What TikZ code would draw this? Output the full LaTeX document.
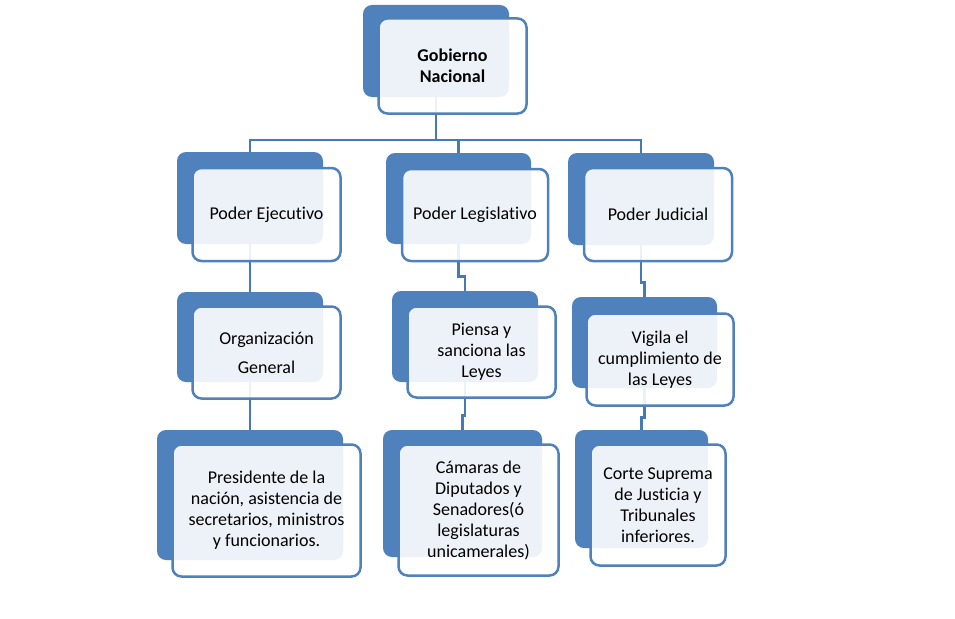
\documentclass[tikz,border=0pt]{standalone}
\usepackage{fontspec}
\setmainfont[Ligatures=NoCommon]{Carlito}
\usepackage{tikz}
\usetikzlibrary{positioning,calc}
\definecolor{office}{HTML}{4F81BD}
\definecolor{linkblue}{HTML}{4679B8}
\tikzset{
  back/.style={fill=office, rounded corners=9pt, inner sep=0pt},
  front/.style={draw=office, line width=2.5pt, fill=white, fill opacity=0.9, text opacity=1,
    rounded corners=9pt, inner sep=0pt, align=center, font=\fontsize{18}{21}\selectfont},
  link/.style={draw=linkblue, line width=2.9pt},
}

\begin{document}
\begin{tikzpicture}[x=1pt, y=-1pt]
        \fill[white] (0,0) rectangle (955,618);
        \useasboundingbox (0,0) rectangle (955,618);
        % back plates
        \node[back, minimum width=146pt, minimum height=92pt] (gobB) at (436,51) {};
        \node[back, minimum width=146pt, minimum height=92pt] (ejeB) at (250,198) {};
        \node[back, minimum width=145pt, minimum height=91pt] (legB) at (458.5,198.5) {};
        \node[back, minimum width=146pt, minimum height=92pt] (judB) at (641,199) {};
        \node[back, minimum width=146pt, minimum height=90pt] (orgB) at (250,337) {};
        \node[back, minimum width=146pt, minimum height=91pt] (pieB) at (465,336.5) {};
        \node[back, minimum width=145pt, minimum height=91pt] (vigB) at (644.5,342.5) {};
        \node[back, minimum width=186pt, minimum height=130pt] (preB) at (250,495) {};
        \node[back, minimum width=159pt, minimum height=127pt] (camB) at (462.5,493.5) {};
        \node[back, minimum width=133pt, minimum height=118pt] (corB) at (641.5,489) {};
        % connectors
        \coordinate (bus) at (436,140);
        \draw[link] (gobB.south) -- (bus);
        \draw[link] (bus) -| (ejeB.north);
        \draw[link] (bus) -| (legB.north);
        \draw[link] (bus) -| (judB.north);
        \draw[link] (ejeB.south) -- (orgB.north);
        \draw[link] (orgB.south) -- (preB.north);
        \draw[link] (legB.south) -- ++(0,32) -| (pieB.north);
        \draw[link] (pieB.south) -- ++(0,33) -| (camB.north);
        \draw[link] (judB.south) -- ++(0,37) -| (vigB.north);
        \draw[link] (vigB.south) -- ++(0,29) -| (corB.north);
        % front cards
        \node[front, minimum width=148pt, minimum height=95pt] (gob) at (452.5,66) {\textbf{Gobierno}\\\textbf{Nacional}};
        \node[front, minimum width=148pt, minimum height=93pt] (eje) at (266.5,214.5) {Poder Ejecutivo};
        \node[front, minimum width=146pt, minimum height=92pt] (leg) at (475,215) {Poder Legislativo};
        \node[front, minimum width=148pt, minimum height=93pt] (jud) at (658,214.5) {Poder Judicial};
        \node[front, minimum width=148pt, minimum height=92pt] (org) at (266.5,352.5) {Organización\\[8pt]General};
        \node[front, minimum width=148pt, minimum height=91pt] (pie) at (481.5,352) {Piensa y\\sanciona las\\Leyes};
        \node[front, minimum width=147pt, minimum height=92pt] (vig) at (660,359.5) {Vigila el\\cumplimiento de\\las Leyes};
        \node[front, minimum width=188pt, minimum height=132pt] (pre) at (266.5,510.5) {Presidente de la\\nación, asistencia de\\secretarios, ministros\\y funcionarios.};
        \node[front, minimum width=160pt, minimum height=131pt] (cam) at (478.5,510) {Cámaras de\\Diputados y\\Senadores(ó\\legislaturas\\unicamerales)};
        \node[front, minimum width=135pt, minimum height=121pt] (cor) at (658,505) {Corte Suprema\\de Justicia y\\Tribunales\\inferiores.};
\end{tikzpicture}
\end{document}
